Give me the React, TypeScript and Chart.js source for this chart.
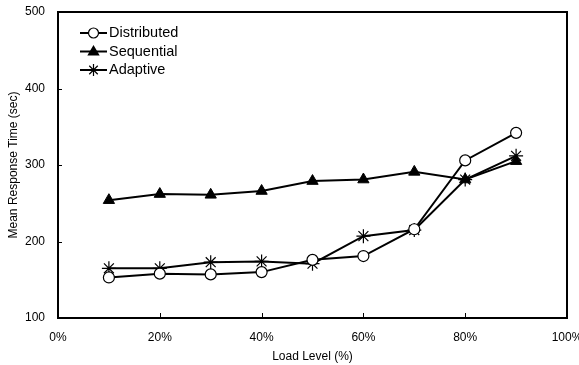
import React, { useEffect, useRef } from "react";
import { Chart, registerables } from "chart.js";

Chart.register(...registerables);

const loadLevels = [10, 20, 30, 40, 50, 60, 70, 80, 90];
const distributed = [153, 158, 157, 160, 176, 181, 216, 306, 342];
const sequential = [254, 262, 261, 266, 279, 281, 291, 281, 305];
const adaptive = [165, 165, 173, 174, 171, 207, 215, 281, 312];
const seriesNames = ["Distributed", "Sequential", "Adaptive"];
const xTicks = [0, 20, 40, 60, 80, 100];
const yTicks = [100, 200, 300, 400, 500];

const FONT = "'Liberation Sans', Arial, sans-serif";

function drawMarker(ctx: CanvasRenderingContext2D, style: string, x: number, y: number, r: number) {
  ctx.save();
  ctx.strokeStyle = "#000";
  ctx.lineWidth = 1.2;
  if (style === "circle") {
    ctx.fillStyle = "#fff";
    ctx.beginPath();
    ctx.arc(x, y, r, 0, Math.PI * 2);
    ctx.fill();
    ctx.stroke();
  } else if (style === "triangle") {
    ctx.fillStyle = "#000";
    ctx.beginPath();
    ctx.moveTo(x, y - r);
    ctx.lineTo(x + r * 0.95, y + r * 0.6);
    ctx.lineTo(x - r * 0.95, y + r * 0.6);
    ctx.closePath();
    ctx.fill();
  } else {
    ctx.beginPath();
    for (let i = 0; i < 4; i++) {
      const a = (i * Math.PI) / 4;
      ctx.moveTo(x - r * Math.sin(a), y - r * Math.cos(a));
      ctx.lineTo(x + r * Math.sin(a), y + r * Math.cos(a));
    }
    ctx.stroke();
  }
  ctx.restore();
}

const framePlugin = {
  id: "frame",
  afterDraw(chart: any) {
    const { ctx, chartArea } = chart;
    const { left, right, top, bottom } = chartArea;
    const xs = chart.scales.x;
    const ys = chart.scales.y;
    ctx.save();
    ctx.strokeStyle = "#000";
    ctx.lineWidth = 2;
    ctx.strokeRect(left, top, right - left, bottom - top);
    ctx.lineWidth = 1;
    ctx.beginPath();
    for (const v of xTicks) {
      const px = Math.round(xs.getPixelForValue(v)) + 0.5;
      ctx.moveTo(px, bottom);
      ctx.lineTo(px, bottom - 5);
    }
    for (const v of yTicks) {
      const py = Math.round(ys.getPixelForValue(v)) + 0.5;
      ctx.moveTo(left, py);
      ctx.lineTo(left + 4, py);
    }
    ctx.stroke();

    // legend
    const styles = ["circle", "triangle", "star"];
    const radii = [5, 6.5, 6];
    const ly = [33, 51.5, 70];
    ctx.font = "14.5px " + FONT;
    ctx.textBaseline = "middle";
    ctx.fillStyle = "#000";
    for (let i = 0; i < 3; i++) {
      ctx.lineWidth = 2;
      ctx.beginPath();
      ctx.moveTo(80, ly[i]);
      ctx.lineTo(107, ly[i]);
      ctx.stroke();
      drawMarker(ctx, styles[i], 93.5, ly[i], radii[i]);
      ctx.fillText(seriesNames[i], 109, ly[i]);
    }
    ctx.restore();
  },
};

export default function App() {
  const ref = useRef<HTMLCanvasElement>(null);
  useEffect(() => {
    document.body.style.margin = "0";
    const mk = (vals: number[]) => loadLevels.map((x, i) => ({ x, y: vals[i] }));
    const chart = new Chart(ref.current!, {
      type: "line",
      data: {
        datasets: [
          {
            label: seriesNames[0],
            data: mk(distributed),
            borderColor: "#000",
            borderWidth: 2,
            pointStyle: "circle",
            pointRadius: 5.5,
            pointBackgroundColor: "#fff",
            pointBorderColor: "#000",
            pointBorderWidth: 1.2,
          },
          {
            label: seriesNames[1],
            data: mk(sequential),
            borderColor: "#000",
            borderWidth: 2,
            pointStyle: "triangle",
            pointRadius: 6.5,
            pointBackgroundColor: "#000",
            pointBorderColor: "#000",
            pointBorderWidth: 1,
          },
          {
            label: seriesNames[2],
            data: mk(adaptive),
            borderColor: "#000",
            borderWidth: 2,
            pointStyle: "star",
            pointRadius: 7,
            pointBackgroundColor: "#000",
            pointBorderColor: "#000",
            pointBorderWidth: 1.2,
          },
        ],
      },
      options: {
        animation: false,
        responsive: false,
        layout: { padding: { top: 12, right: 12, left: 0, bottom: 0 } },
        plugins: { legend: { display: false }, tooltip: { enabled: false } },
        scales: {
          x: {
            type: "linear",
            min: 0,
            max: 100,
            afterBuildTicks: (s: any) => {
              s.ticks = xTicks.map((v) => ({ value: v }));
            },
            afterFit: (s: any) => {
              s.height = 47;
              s.paddingLeft = 0;
              s.paddingRight = 0;
            },
            grid: { display: false, drawTicks: false },
            border: { display: false },
            ticks: {
              color: "#000",
              font: { family: FONT, size: 12 },
              padding: 12,
              maxRotation: 0,
              callback: (v: any) => v + "%",
            },
            title: {
              display: true,
              text: "Load Level (%)",
              color: "#000",
              font: { family: FONT, size: 12 },
              padding: { top: 4, bottom: 1 },
            },
          },
          y: {
            min: 100,
            max: 500,
            afterBuildTicks: (s: any) => {
              s.ticks = yTicks.map((v) => ({ value: v }));
            },
            afterFit: (s: any) => {
              s.width = 58;
              s.paddingTop = 0;
              s.paddingBottom = 0;
            },
            grid: { display: false, drawTicks: false },
            border: { display: false },
            ticks: {
              color: "#000",
              font: { family: FONT, size: 12 },
              padding: 13,
            },
            title: {
              display: true,
              text: "Mean Response Time (sec)",
              color: "#000",
              font: { family: FONT, size: 12 },
              padding: { top: 6, bottom: 2 },
            },
          },
        },
      },
      plugins: [framePlugin],
    } as any);
    return () => chart.destroy();
  }, []);
  return (
    <div style={{ position: "absolute", left: 0, top: 0, width: 579, height: 365 }}>
      <canvas ref={ref} width={579} height={365} style={{ display: "block" }} />
    </div>
  );
}
